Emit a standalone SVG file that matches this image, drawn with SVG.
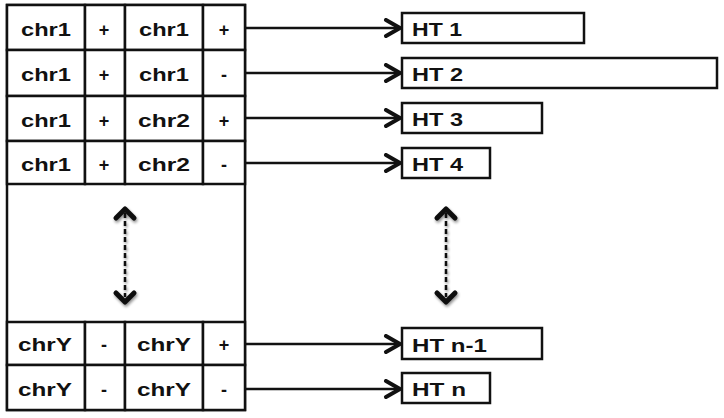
<svg xmlns="http://www.w3.org/2000/svg" width="724" height="418" viewBox="0 0 724 418">
<defs>
<style>
.cell{fill:#fff;stroke:#111;stroke-width:2.5}
.box{fill:#fff;stroke:#111;stroke-width:2.5}
.t{font-family:"Liberation Sans",Arial,sans-serif;font-weight:bold;font-size:18px;fill:#111;text-anchor:middle}
.h{font-family:"Liberation Sans",Arial,sans-serif;font-weight:bold;font-size:19px;fill:#111}
.conn{stroke:#111;stroke-width:2.5;fill:none}
.dash{stroke:#111;stroke-width:2.5;fill:none;stroke-dasharray:5 3}
.head{stroke:#111;stroke-width:5;fill:none;stroke-linecap:round;stroke-linejoin:round}
</style>
<marker id="arr" viewBox="0 0 20 20" refX="17" refY="10" markerWidth="20" markerHeight="20" markerUnits="userSpaceOnUse" orient="auto">
<path d="M3,2 L17,10 L3,18" fill="none" stroke="#111" stroke-width="4" stroke-linejoin="round" stroke-linecap="round"/>
</marker>
<filter id="sh" x="-50%" y="-20%" width="200%" height="140%">
<feGaussianBlur in="SourceAlpha" stdDeviation="1.8"/>
<feOffset dx="1" dy="2" result="b"/>
<feComponentTransfer><feFuncA type="linear" slope="0.45"/></feComponentTransfer>
<feMerge><feMergeNode/><feMergeNode in="SourceGraphic"/></feMerge>
</filter>
</defs>
<rect width="724" height="418" fill="#fff"/>

<g id="table">
<rect class="cell" x="7" y="5" width="238" height="405"/>
<g id="row1">
<rect class="cell" x="7" y="5" width="78" height="45"/><rect class="cell" x="85" y="5" width="40" height="45"/><rect class="cell" x="125" y="5" width="78" height="45"/><rect class="cell" x="203" y="5" width="42" height="45"/>
<text class="t" x="46" y="36" textLength="50" lengthAdjust="spacingAndGlyphs">chr1</text><text class="t" x="104" y="36">+</text><text class="t" x="164" y="36" textLength="50" lengthAdjust="spacingAndGlyphs">chr1</text><text class="t" x="224" y="36">+</text>
</g>
<g id="row2">
<rect class="cell" x="7" y="50" width="78" height="46"/><rect class="cell" x="85" y="50" width="40" height="46"/><rect class="cell" x="125" y="50" width="78" height="46"/><rect class="cell" x="203" y="50" width="42" height="46"/>
<text class="t" x="46" y="81" textLength="50" lengthAdjust="spacingAndGlyphs">chr1</text><text class="t" x="104" y="81">+</text><text class="t" x="164" y="81" textLength="50" lengthAdjust="spacingAndGlyphs">chr1</text><text class="t" x="224" y="81">-</text>
</g>
<g id="row3">
<rect class="cell" x="7" y="96" width="78" height="45"/><rect class="cell" x="85" y="96" width="40" height="45"/><rect class="cell" x="125" y="96" width="78" height="45"/><rect class="cell" x="203" y="96" width="42" height="45"/>
<text class="t" x="46" y="127" textLength="50" lengthAdjust="spacingAndGlyphs">chr1</text><text class="t" x="104" y="127">+</text><text class="t" x="164" y="127" textLength="52" lengthAdjust="spacingAndGlyphs">chr2</text><text class="t" x="224" y="127">+</text>
</g>
<g id="row4">
<rect class="cell" x="7" y="141" width="78" height="43"/><rect class="cell" x="85" y="141" width="40" height="43"/><rect class="cell" x="125" y="141" width="78" height="43"/><rect class="cell" x="203" y="141" width="42" height="43"/>
<text class="t" x="46" y="171" textLength="50" lengthAdjust="spacingAndGlyphs">chr1</text><text class="t" x="104" y="171">+</text><text class="t" x="164" y="171" textLength="52" lengthAdjust="spacingAndGlyphs">chr2</text><text class="t" x="224" y="171">-</text>
</g>
<g id="rowY1">
<rect class="cell" x="7" y="322" width="78" height="43"/><rect class="cell" x="85" y="322" width="40" height="43"/><rect class="cell" x="125" y="322" width="78" height="43"/><rect class="cell" x="203" y="322" width="42" height="43"/>
<text class="t" x="45" y="351" textLength="54" lengthAdjust="spacingAndGlyphs">chrY</text><text class="t" x="104" y="351">-</text><text class="t" x="164" y="351" textLength="54" lengthAdjust="spacingAndGlyphs">chrY</text><text class="t" x="224" y="351">+</text>
</g>
<g id="rowY2">
<rect class="cell" x="7" y="365" width="78" height="45"/><rect class="cell" x="85" y="365" width="40" height="45"/><rect class="cell" x="125" y="365" width="78" height="45"/><rect class="cell" x="203" y="365" width="42" height="45"/>
<text class="t" x="45" y="396" textLength="54" lengthAdjust="spacingAndGlyphs">chrY</text><text class="t" x="104" y="396">-</text><text class="t" x="164" y="396" textLength="54" lengthAdjust="spacingAndGlyphs">chrY</text><text class="t" x="224" y="396">-</text>
</g>
</g>

<g id="ht1"><rect class="box" x="402" y="13" width="182" height="30"/><text class="h" x="412" y="36" textLength="50" lengthAdjust="spacingAndGlyphs">HT 1</text></g>
<g id="ht2"><rect class="box" x="402" y="58" width="315" height="30"/><text class="h" x="412" y="81" textLength="51" lengthAdjust="spacingAndGlyphs">HT 2</text></g>
<g id="ht3"><rect class="box" x="402" y="103" width="140" height="30"/><text class="h" x="412" y="126" textLength="51" lengthAdjust="spacingAndGlyphs">HT 3</text></g>
<g id="ht4"><rect class="box" x="402" y="148" width="88" height="30"/><text class="h" x="412" y="171" textLength="51" lengthAdjust="spacingAndGlyphs">HT 4</text></g>
<g id="htn1"><rect class="box" x="402" y="328" width="140" height="31"/><text class="h" x="412" y="352" textLength="75" lengthAdjust="spacingAndGlyphs">HT n-1</text></g>
<g id="htn"><rect class="box" x="402" y="373" width="88" height="30"/><text class="h" x="412" y="396" textLength="54" lengthAdjust="spacingAndGlyphs">HT n</text></g>

<g id="connectors">
<line class="conn" x1="245" y1="28" x2="400" y2="28" marker-end="url(#arr)"/>
<line class="conn" x1="245" y1="73" x2="400" y2="73" marker-end="url(#arr)"/>
<line class="conn" x1="245" y1="118" x2="400" y2="118" marker-end="url(#arr)"/>
<line class="conn" x1="245" y1="163" x2="400" y2="163" marker-end="url(#arr)"/>
<line class="conn" x1="245" y1="344" x2="400" y2="344" marker-end="url(#arr)"/>
<line class="conn" x1="245" y1="389" x2="400" y2="389" marker-end="url(#arr)"/>
<g filter="url(#sh)">
<line class="dash" x1="125" y1="213" x2="125" y2="297"/>
<path class="head" d="M116,218 L125,209 L134,218"/>
<path class="head" d="M116,293 L125,302 L134,293"/>
<line class="dash" x1="446" y1="213" x2="446" y2="297"/>
<path class="head" d="M437,218 L446,209 L455,218"/>
<path class="head" d="M437,293 L446,302 L455,293"/>
</g>
</g>
</svg>
